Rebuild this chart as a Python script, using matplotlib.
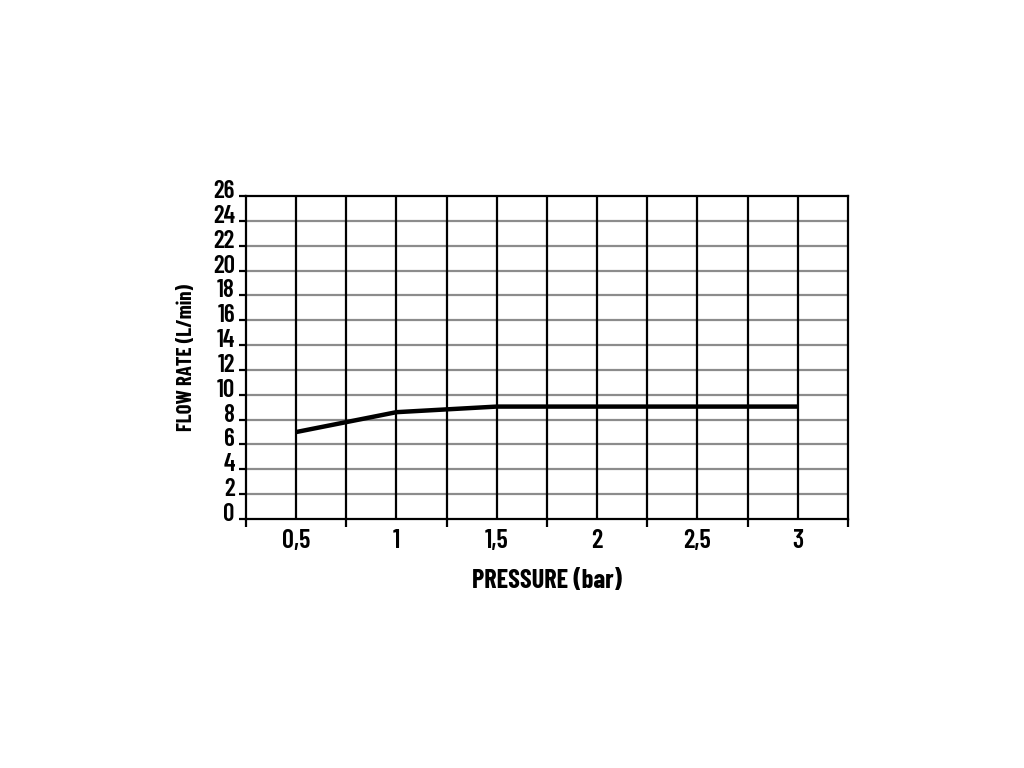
import matplotlib
matplotlib.use("Agg")
import matplotlib.pyplot as plt
import matplotlib.transforms as mtransforms
from matplotlib import font_manager

# pressure (bar) vs flow rate (L/min)
pressure = [0.5, 1.0, 1.5, 2.0, 2.5, 3.0]
flow = [7.0, 8.6, 9.05, 9.05, 9.05, 9.05]

x_labels = ["0,5", "1", "1,5", "2", "2,5", "3"]
x_label_pos = [0.5, 1.0, 1.5, 2.0, 2.5, 3.0]
x_minor = [0.25, 0.75, 1.25, 1.75, 2.25, 2.75, 3.25]
y_ticks = list(range(0, 27, 2))

# condensed bold face if there is one
names = set(f.name for f in font_manager.fontManager.ttflist)
fam = ['Barlow Condensed'] if 'Barlow Condensed' in names else []
plt.rcParams['font.family'] = fam + ['Liberation Sans', 'DejaVu Sans']

fig = plt.figure(figsize=(10.24, 7.68), dpi=100)
ax = fig.add_axes([0.2402, 0.3242, 0.5879, 0.4206])

# grid: grey horizontal, black vertical
for y in y_ticks[1:-1]:
    ax.axhline(y, color="#8c8c8c", lw=1.6, zorder=1)
for x in x_label_pos + x_minor[1:-1]:
    ax.axvline(x, color="black", lw=1.6, zorder=1)

ax.plot(pressure, flow, color="black", lw=3.2, solid_capstyle="butt", zorder=3)

ax.set_xlim(0.25, 3.25)
ax.set_ylim(0, 26)

ax.set_xticks(x_minor)
ax.set_xticklabels([])
ax.set_xticks(x_label_pos, minor=True)
ax.set_xticklabels(x_labels, minor=True, fontsize=19, fontweight="semibold")
ax.tick_params(axis="x", which="major", direction="out", length=6, width=1.6, color="black")
ax.tick_params(axis="x", which="minor", length=0, pad=7)

ax.set_yticks(y_ticks)
ax.set_yticklabels([str(v) for v in y_ticks], fontsize=18, fontweight="semibold")
ax.tick_params(axis="y", direction="out", length=5, width=1.6, pad=3)
off = mtransforms.ScaledTranslation(0, 7 / 100, fig.dpi_scale_trans)
for lab in ax.get_yticklabels():
    lab.set_transform(lab.get_transform() + off)

for s in ax.spines.values():
    s.set_linewidth(1.6)
    s.set_color("black")

ax.set_xlabel("PRESSURE (bar)", fontsize=19, fontweight="bold", labelpad=12)
ax.set_ylabel("FLOW RATE (L/min)", fontsize=15, fontweight="bold", labelpad=12)

fig.savefig("out.png", dpi=100, facecolor="white")
